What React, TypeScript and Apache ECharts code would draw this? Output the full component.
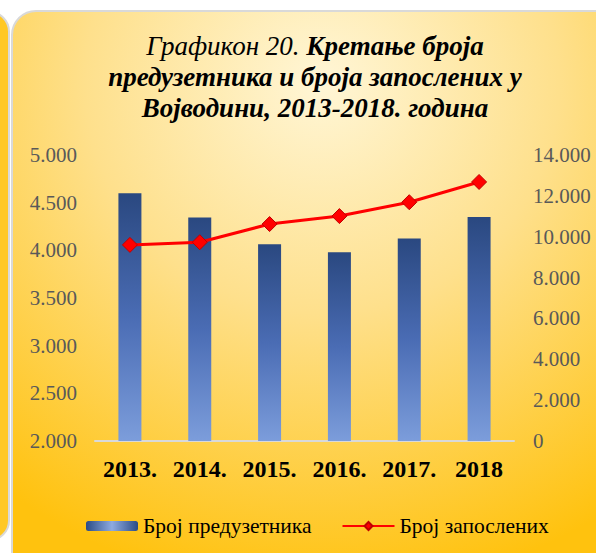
import React, { useEffect, useRef } from "react";
import * as echarts from "echarts";

const years = ["2013.", "2014.", "2015.", "2016.", "2017.", "2018"];
const entrepreneurs = [4600, 4345, 4065, 3980, 4125, 4350];
const employed = [9600, 9730, 10620, 11010, 11690, 12680];
const seriesNames = ["Број предузетника", "Број запослених"];

const fmt = (v: number) => {
  const s = String(Math.round(v));
  return s.replace(/\B(?=(\d{3})+(?!\d))/g, ".");
};

const SERIF = "Liberation Serif";

export default function App() {
  const ref = useRef<HTMLDivElement>(null);
  useEffect(() => {
    if (!ref.current) return;
    const chart = echarts.init(ref.current, undefined, { renderer: "svg" });
    const bg = new echarts.graphic.RadialGradient(0.5, 0.12, 0.85, [
      { offset: 0, color: "#fff6d6" },
      { offset: 0.45, color: "#fee08c" },
      { offset: 1, color: "#ffc20e" },
    ]);
    chart.setOption({
      animation: false,
      backgroundColor: "#ffffff",
      graphic: [
        {
          type: "rect",
          z: -10,
          silent: true,
          shape: { x: -30, y: 12, width: 39, height: 528, r: 22 },
          style: { fill: "#ffc825", stroke: "#d9d9d9", lineWidth: 2 },
        },
        {
          type: "rect",
          z: -10,
          silent: true,
          shape: { x: 12, y: 11, width: 620, height: 600, r: 24 },
          style: { fill: bg, stroke: "#d9d9d9", lineWidth: 2 },
        },
      ],
      title: {
        left: 310,
        top: 25,
        textAlign: "center",
        text:
          "{a|Графикон 20. }{b|Кретање броја}\n{b|предузетника и броја запослених у}\n{b|Војводини, 2013-2018. година}",
        textStyle: {
          rich: {
            a: {
              fontFamily: SERIF,
              fontStyle: "italic",
              fontWeight: "normal",
              fontSize: 27,
              color: "#000",
              lineHeight: 31,
            },
            b: {
              fontFamily: SERIF,
              fontStyle: "italic",
              fontWeight: "bold",
              fontSize: 27,
              color: "#000",
              lineHeight: 31,
            },
          },
        },
      },
      legend: {
        left: 81,
        top: 510,
        itemWidth: 52,
        itemHeight: 10,
        itemGap: 30,
        textStyle: { fontFamily: SERIF, fontSize: 21.5, color: "#000" },
        data: [
          {
            name: seriesNames[0],
            icon: "roundRect",
            itemStyle: {
              color: new echarts.graphic.LinearGradient(0, 0, 1, 0, [
                { offset: 0, color: "#2b4c86" },
                { offset: 0.5, color: "#8eaae0" },
                { offset: 1, color: "#2b4c86" },
              ]),
            },
          },
          { name: seriesNames[1] },
        ],
      },
      grid: { left: 95, right: 82, top: 155, bottom: 112 },
      xAxis: {
        type: "category",
        data: years,
        axisLine: { lineStyle: { color: "#d9d9d9", width: 2 } },
        axisTick: { show: false },
        axisLabel: {
          interval: 0,
          fontFamily: SERIF,
          fontWeight: "bold",
          fontSize: 24,
          color: "#000",
          margin: 16,
        },
      },
      yAxis: [
        {
          type: "value",
          min: 2000,
          max: 5000,
          interval: 500,
          splitLine: { show: false },
          axisLine: { show: false },
          axisLabel: {
            fontFamily: SERIF,
            fontSize: 21,
            color: "#595959",
            margin: 18,
            formatter: fmt,
          },
        },
        {
          type: "value",
          min: 0,
          max: 14000,
          interval: 2000,
          splitLine: { show: false },
          axisLine: { show: false },
          axisLabel: {
            fontFamily: SERIF,
            fontSize: 21,
            color: "#595959",
            margin: 19,
            formatter: fmt,
          },
        },
      ],
      series: [
        {
          name: seriesNames[0],
          type: "bar",
          data: entrepreneurs,
          barWidth: 23,
          itemStyle: {
            color: new echarts.graphic.LinearGradient(0, 0, 0, 1, [
              { offset: 0, color: "#2a4880" },
              { offset: 0.5, color: "#4a6cb4" },
              { offset: 1, color: "#7c9ddb" },
            ]),
          },
        },
        {
          name: seriesNames[1],
          type: "line",
          yAxisIndex: 1,
          data: employed,
          symbol: "diamond",
          symbolSize: 15,
          lineStyle: { color: "#ff0000", width: 3 },
          itemStyle: { color: "#ff0000", borderColor: "#c00000", borderWidth: 1 },
        },
      ],
    });
    return () => chart.dispose();
  }, []);
  return (
    <div
      ref={ref}
      style={{ position: "fixed", left: 0, top: 0, width: 596, height: 553 }}
    />
  );
}
